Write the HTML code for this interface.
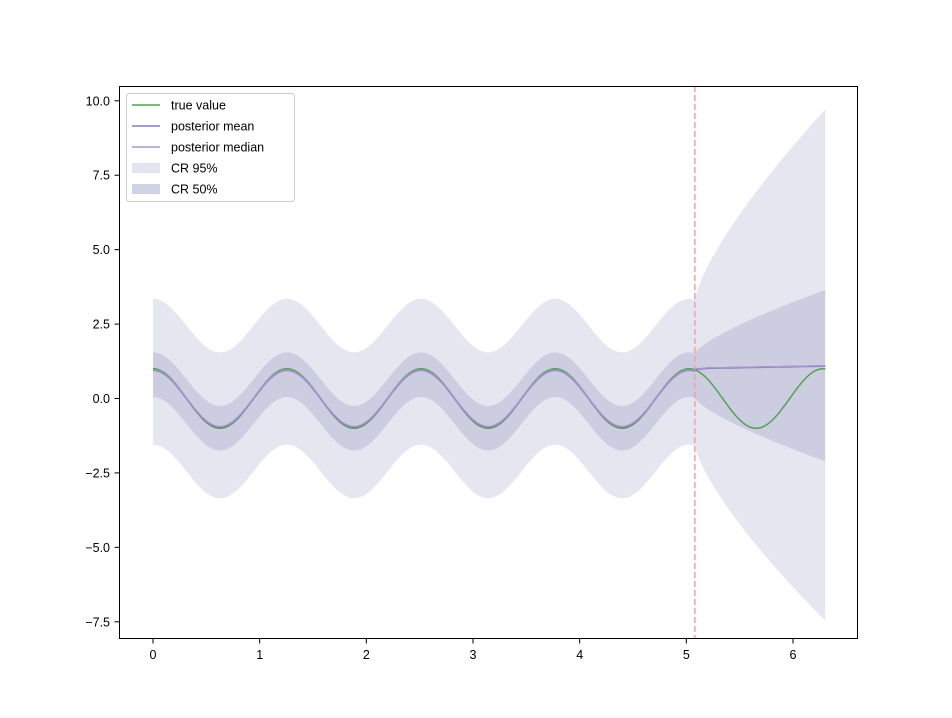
<!DOCTYPE html>
<html><head><meta charset="utf-8"><style>
body{margin:0;background:#fff}
svg{display:block;font-family:"Liberation Sans","DejaVu Sans",sans-serif}
</style></head><body>
<svg id="s" width="952" height="718" xmlns="http://www.w3.org/2000/svg"></svg>
<script>
const s=document.getElementById('s');
const X=v=>153+106.667*v, Y=v=>398.5-29.77*v;
const N=400, T=2*Math.PI*1.003, x0=5.08;
let xs=[];for(let i=0;i<=N;i++)xs.push(T*i/N);
function mean(x){if(x<=x0)return Math.cos(5*x)*0.95;let t=x-x0;return 0.98+0.1*Math.min(1,t*8)*0.3+0.08*t/1.2;}
function band(x,k){let c=Math.cos(5*Math.min(x,x0))*0.9;let t=Math.max(0,x-x0),g=Math.pow(t/1.2,0.75);
 if(k==0)return [c+2.45+6.3*g, c-2.45-5.8*g];
 return [c+0.65+2.1*g, c-0.85-2.1*g];}
function area(k){let up=xs.map(x=>X(x).toFixed(1)+','+Y(band(x,k)[0]).toFixed(1));
 let lo=xs.slice().reverse().map(x=>X(x).toFixed(1)+','+Y(band(x,k)[1]).toFixed(1));
 return 'M'+up.join('L')+'L'+lo.join('L')+'Z';}
function line(f){return 'M'+xs.map(x=>X(x).toFixed(1)+','+Y(f(x)).toFixed(1)).join('L');}
let h='';
h+=`<path d="${area(0)}" fill="#6a6aaa" fill-opacity="0.17"/>`;
h+=`<path d="${area(1)}" fill="#6a6aaa" fill-opacity="0.2"/>`;
h+=`<line x1="${X(x0)}" y1="86" x2="${X(x0)}" y2="639" stroke="#f4a0a0" stroke-width="1.5" stroke-dasharray="6,3"/>`;
h+=`<path d="${line(x=>Math.cos(5*x))}" fill="none" stroke="#55a055" stroke-width="1.5"/>`;
h+=`<path d="${line(mean)}" fill="none" stroke="#8878bb" stroke-width="1.8"/>`;
h+=`<path d="${line(x=>mean(x)+0.01)}" fill="none" stroke="#a898cc" stroke-width="1.3"/>`;
h+=`<rect x="119.5" y="86.5" width="738" height="552" fill="none" stroke="#000" stroke-width="1"/>`;
for(let i=0;i<=6;i++){let x=X(i);h+=`<line x1="${x}" y1="639" x2="${x}" y2="643.5" stroke="#000"/><text x="${x}" y="659" font-size="12.5" text-anchor="middle">${i}</text>`;}
for(let v=-7.5;v<=10;v+=2.5){let y=Y(v);h+=`<line x1="114.5" y1="${y}" x2="119" y2="${y}" stroke="#000"/><text x="110" y="${y+4.5}" font-size="12.5" text-anchor="end">${v<0?'−'+(-v).toFixed(1):v.toFixed(1)}</text>`;}
h+=`<rect x="126.5" y="93.5" width="168" height="108" rx="3" fill="#fff" fill-opacity="0.85" stroke="#ccc"/>`;
const L=[['true value','l','#55a055'],['posterior mean','l','#8878bb'],['posterior median','l','#a898cc'],['CR 95%','p','#e4e4ef'],['CR 50%','p','#d2d2e6']];
L.forEach((e,i)=>{let y=105+i*21;
 if(e[1]=='l')h+=`<line x1="132" y1="${y}" x2="160" y2="${y}" stroke="${e[2]}" stroke-width="1.5"/>`;
 else h+=`<rect x="132" y="${y-5}" width="28" height="10" fill="${e[2]}"/>`;
 h+=`<text x="171" y="${y+4.5}" font-size="12.5">${e[0]}</text>`;});
s.innerHTML=h;
</script>
</body></html>
